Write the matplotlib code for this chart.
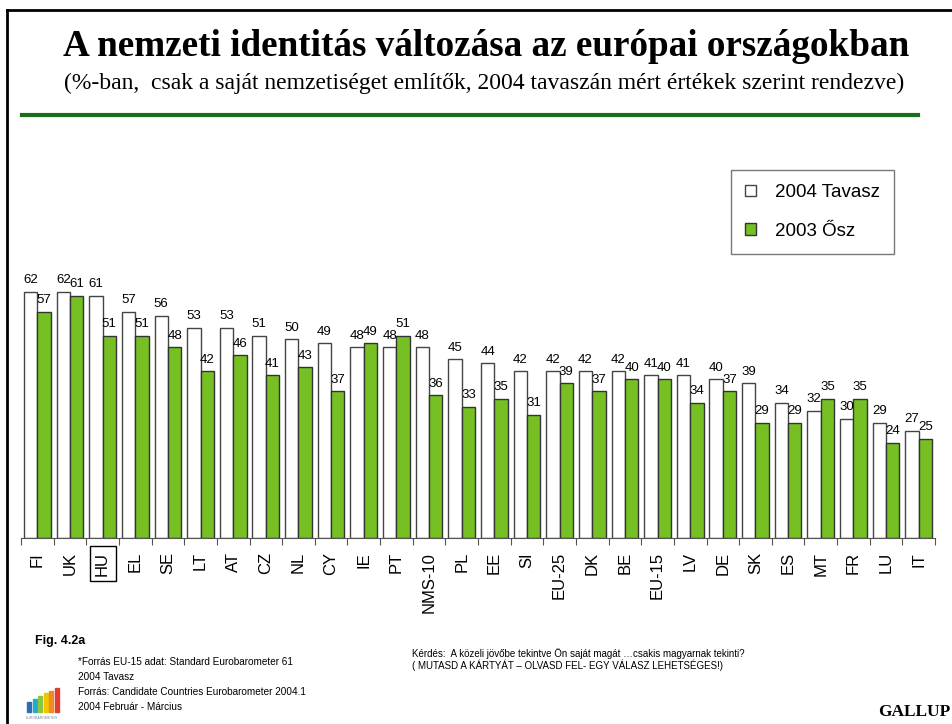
import matplotlib
matplotlib.use('Agg')
import matplotlib.pyplot as plt
from matplotlib.lines import Line2D
from matplotlib.patches import Rectangle

# adatok
countries = ['FI', 'UK', 'HU', 'EL', 'SE', 'LT', 'AT', 'CZ', 'NL', 'CY', 'IE', 'PT',
             'NMS-10', 'PL', 'EE', 'SI', 'EU-25', 'DK', 'BE', 'EU-15', 'LV', 'DE',
             'SK', 'ES', 'MT', 'FR', 'LU', 'IT']
spring_2004 = [62, 62, 61, 57, 56, 53, 53, 51, 50, 49, 48, 48, 48, 45, 44, 42, 42, 42,
               42, 41, 41, 40, 39, 34, 32, 30, 29, 27]
autumn_2003 = [57, 61, 51, 51, 48, 42, 46, 41, 43, 37, 49, 51, 36, 33, 35, 31, 39, 37,
               40, 40, 34, 37, 29, 29, 35, 35, 24, 25]
series_names = ['2004 Tavasz', '2003 Ősz']

GREEN = '#76c023'
W, H = 952, 724


def main():
    plt.rcParams['font.family'] = ['Liberation Sans', 'DejaVu Sans']
    fig = plt.figure(figsize=(W / 100, H / 100), dpi=100)

    # keret
    fig.add_artist(Line2D([7 / W, 7 / W], [0, 1 - 10 / H], color='black', lw=2))
    fig.add_artist(Line2D([7 / W, 1], [1 - 10 / H, 1 - 10 / H], color='black', lw=2))

    # cím
    fig.text(486 / W, 1 - 47 / H, 'A nemzeti identitás változása az európai országokban',
             ha='center', va='center', family='Liberation Serif', weight='bold', fontsize=26.7)
    fig.text(484 / W, 1 - 83 / H,
             '(%-ban,  csak a saját nemzetiséget említők, 2004 tavaszán mért értékek szerint rendezve)',
             ha='center', va='center', family='Liberation Serif', fontsize=17)
    fig.add_artist(Line2D([22 / W, 918 / W], [1 - 115 / H, 1 - 115 / H], color='#1a6e1a', lw=3))

    # diagram
    ax = fig.add_axes([21 / W, 186 / H, 914 / W, 386 / H])
    n = len(countries)
    xs = list(range(n))
    wb = 0.41
    b1 = ax.bar([x + 0.09 for x in xs], spring_2004, width=wb, align='edge',
                color='white', edgecolor='#444444', lw=1, label=series_names[0])
    b2 = ax.bar([x + 0.50 for x in xs], autumn_2003, width=wb, align='edge',
                color=GREEN, edgecolor='#333333', lw=1, label=series_names[1])
    for bars, vals in ((b1, spring_2004), (b2, autumn_2003)):
        for r, v in zip(bars, vals):
            ax.annotate(str(v), (r.get_x() + r.get_width() / 2, v), xytext=(0, 4),
                        textcoords='offset points', ha='center', va='bottom', fontsize=9.5)

    ax.set_xlim(0, n)
    ax.set_ylim(0, 386 / 3.97)
    for s in ('top', 'right', 'left'):
        ax.spines[s].set_visible(False)
    ax.spines['bottom'].set_color('#555555')
    ax.set_yticks([])
    ax.set_xticks(range(n + 1))
    ax.set_xticklabels([])
    ax.tick_params(axis='x', which='major', length=5, color='#555555')
    ax.set_xticks([x + 0.5 for x in xs], minor=True)
    ax.set_xticklabels(countries, minor=True, rotation=90, fontsize=12)
    ax.tick_params(axis='x', which='minor', length=0, pad=10)
    for lbl in ax.get_xticklabels(minor=True):
        if lbl.get_text() == 'HU':
            lbl.set_bbox(dict(facecolor='none', edgecolor='black', lw=1, pad=4))

    ax.legend(handles=[b1, b2], labels=series_names, loc='upper left',
              bbox_to_anchor=(731 / W, 1 - 170 / H), bbox_transform=fig.transFigure,
              fontsize=13.5, frameon=True, fancybox=False, edgecolor='#555555',
              handlelength=0.6, handleheight=0.6, labelspacing=1.15,
              borderpad=0.75, borderaxespad=0, handletextpad=1.0)

    # lábjegyzet
    fig.text(35 / W, 1 - 641 / H, 'Fig. 4.2a', fontsize=9, weight='bold', va='center')
    src = ['*Forrás EU-15 adat: Standard Eurobarometer 61', '2004 Tavasz',
           'Forrás: Candidate Countries Eurobarometer 2004.1', '2004 Február - Március']
    for i, t in enumerate(src):
        fig.text(78 / W, 1 - (662 + i * 15) / H, t, fontsize=7.2, va='center')
    fig.text(412 / W, 1 - 654 / H,
             'Kérdés:  A közeli jövőbe tekintve Ön saját magát …csakis magyarnak tekinti?',
             fontsize=7, va='center')
    fig.text(412 / W, 1 - 665 / H,
             '( MUTASD A KÁRTYÁT – OLVASD FEL- EGY VÁLASZ LEHETSÉGES!)',
             fontsize=7, va='center')
    fig.text(950 / W, 1 - 712 / H, 'GALLUP', ha='right', va='center',
             family='Liberation Serif', weight='bold', fontsize=12.5)

    # logo
    logo_cols = ['#2e6db4', '#27a9c8', '#8cc63f', '#f2c500', '#f08a24', '#e03c31']
    logo_h = [10, 13, 16, 19, 21, 24]
    for i, (c, h) in enumerate(zip(logo_cols, logo_h)):
        fig.add_artist(Rectangle(((27 + i * 5.5) / W, 1 - 712 / H), 4 / W, h / H,
                                 transform=fig.transFigure, color=c))
    fig.text(42 / W, 1 - 718 / H, 'EUROBAROMETER', fontsize=2.5, color='#7a8aa0',
             ha='center', va='center')

    fig.savefig('out.png', dpi=100)


if __name__ == "__main__":
    main()
